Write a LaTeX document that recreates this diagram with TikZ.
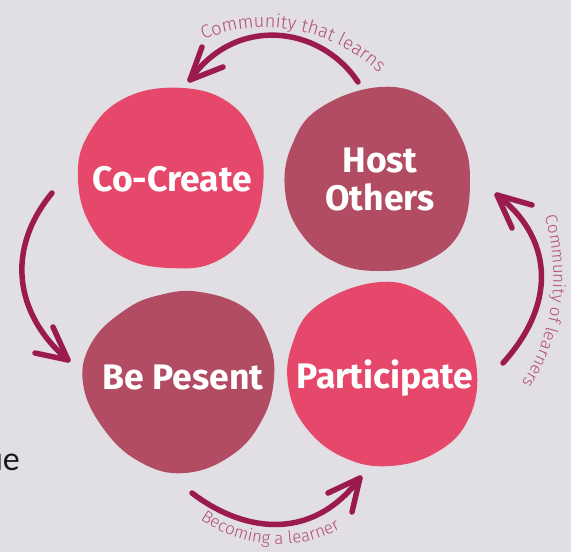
\documentclass[tikz,border=0pt]{standalone}
\usepackage{fontspec}
\setmainfont{Fira Sans}
\newfontfamily\slidefont{Carlito}
\newfontfamily\labfam{Fira Sans Light}
\usetikzlibrary{decorations.text}
\definecolor{bgc}{HTML}{E1DEE4}
\definecolor{pinkc}{HTML}{E6486B}
\definecolor{mauvec}{HTML}{B24C63}
\definecolor{arrowc}{HTML}{9B1B4F}
\definecolor{labc}{HTML}{B4506E}
\newcommand{\labfont}{\labfam\fontsize{18.5}{20}\selectfont}
\newcommand{\labfontsm}{\labfam\fontsize{17}{20}\selectfont}
\begin{document}
\begin{tikzpicture}[x=1pt,y=-1pt,
  stagetext/.style={text=white, font=\bfseries\fontsize{35.5}{38}\selectfont, align=center, inner sep=0pt},
  flow/.style={draw=arrowc, line width=5.5pt, line cap=round, line join=round},
  curvelabel/.style={decorate, decoration={text along path, text align=center, text={|\labfont\color{labc}|#1}}},
  curvelabelsm/.style={decorate, decoration={text along path, text align=center, text={|\labfontsm\color{labc}|#1}}}
]
\fill[bgc] (0,0) rectangle (571,552);
\useasboundingbox (0,0) rectangle (571,552);

% blobs
\fill[pinkc] plot[smooth cycle, tension=0.7] coordinates {(183,88) (232,105) (258,145) (263,185) (250,230) (215,262) (170,268) (125,258) (92,228) (78,180) (88,135) (125,98)};
\fill[mauvec] plot[smooth cycle, tension=0.7] coordinates {(380,87) (430,100) (460,135) (470,180) (460,232) (425,262) (380,271) (335,262) (300,232) (285,190) (292,145) (320,108)};
\fill[mauvec] plot[smooth cycle, tension=0.7] coordinates {(200,292) (245,308) (268,340) (274,378) (262,420) (232,455) (185,473) (140,462) (103,428) (83,383) (92,342) (125,310) (160,295)};
\fill[pinkc] plot[smooth cycle, tension=0.7] coordinates {(380,282) (430,296) (462,328) (477,372) (468,420) (437,452) (390,466) (345,458) (308,430) (289,390) (292,345) (318,305)};

% labels
\node[stagetext] (cocreate) at (172,179) {Co-Create};
\node[stagetext] (host) at (380,179) {Host\\Others};
\node[stagetext] (present) at (183,377) {Be Pesent};
\node[stagetext] (participate) at (385,378) {Participate};

% arrows
\coordinate (t1) at (358,82);  \coordinate (h1) at (190,80);
\draw[flow] (t1) .. controls (320,25) and (235,15) .. (h1);
\draw[flow] (202,47) -- (h1) -- (223,67);

\coordinate (t2) at (503,363); \coordinate (h2) at (497,195);
\draw[flow] (t2) .. controls (560,300) and (550,235) .. (h2);
\draw[flow] (532,205) -- (h2) -- (512,228);

\coordinate (t3) at (192,493); \coordinate (h3) at (360,478);
\draw[flow] (t3) .. controls (240,530) and (310,545) .. (h3);
\draw[flow] (328,493) -- (h3) -- (352,512);

\coordinate (t4) at (52,193); \coordinate (h4) at (68,360);
\draw[flow] (t4) .. controls (5,250) and (15,315) .. (h4);
\draw[flow] (53,327) -- (h4) -- (35,353);

% curved texts
\path[curvelabel={Community that learns}] (199.7,41.3) .. controls (261.9,13.7) and (333.6,28.6) .. (381.7,75.5);
\path[curvelabelsm={Community of learners}] (542,209) .. controls (563,270) and (555,337) .. (517,390);
\path[curvelabelsm={Becoming a learner}] (196,516) .. controls (239,549.5) and (299,553.5) .. (345,526);

% cut-off slide text
\node[anchor=base east, inner sep=0pt, font=\slidefont\fontsize{34}{40}\selectfont, text=black!90] (cut) at (20,470) {ue};
\end{tikzpicture}
\end{document}
